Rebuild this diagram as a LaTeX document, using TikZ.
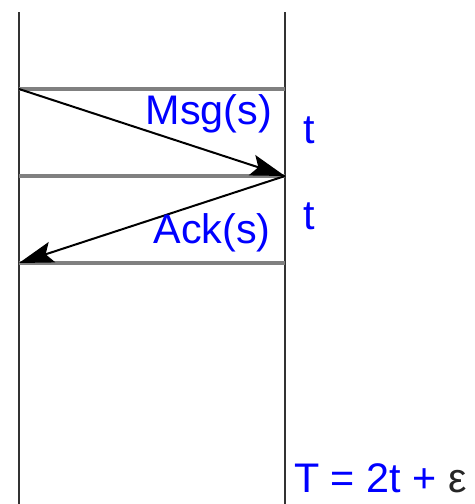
\documentclass[tikz,border=0pt]{standalone}
\usepackage{fontspec}
\setmainfont{Liberation Sans}
\usetikzlibrary{arrows.meta}

\begin{document}
\begin{tikzpicture}[
  x=0.75pt, y=-0.75pt,
  timeline/.style={line width=1.6pt, draw=black!80},
  tick/.style={line width=2.6pt, draw=black!50},
  message/.style={line width=1.5pt, -{Stealth[length=26pt, width=16pt, inset=5pt]}},
  label/.style={text=blue, font=\fontsize{31}{36}\selectfont, inner sep=0pt}
]
  \useasboundingbox (0,0) rectangle (475,504);

  % the two processes
  \coordinate (lTop) at (19,12);
  \coordinate (lBot) at (19,504);
  \coordinate (rTop) at (285,12);
  \coordinate (rBot) at (285,504);
  \draw [timeline] (lTop) -- (lBot);
  \draw [timeline] (rTop) -- (rBot);

  % send, receive and reply times
  \coordinate (l1) at (19,89);
  \coordinate (r1) at (285,89);
  \coordinate (l2) at (19,176);
  \coordinate (r2) at (285,176);
  \coordinate (l3) at (19,263);
  \coordinate (r3) at (285,263);
  \draw [tick] (l1) -- (r1);
  \draw [tick] (l2) -- (r2);
  \draw [tick] (l3) -- (r3);

  \draw [message] (l1) -- (r2);
  \draw [message] (r2) -- (l3);

  \node (msg) [label] at (209,114) {Msg(s)};
  \node (ack) [label] at (212,233) {Ack(s)};
  \node (t1) [label] at (309,130) {t};
  \node (t2) [label] at (309,216) {t};
  \node (total) [label, anchor=base west] at (294,492) {T = 2t + \textcolor{black!85}{ε}};
\end{tikzpicture}
\end{document}
